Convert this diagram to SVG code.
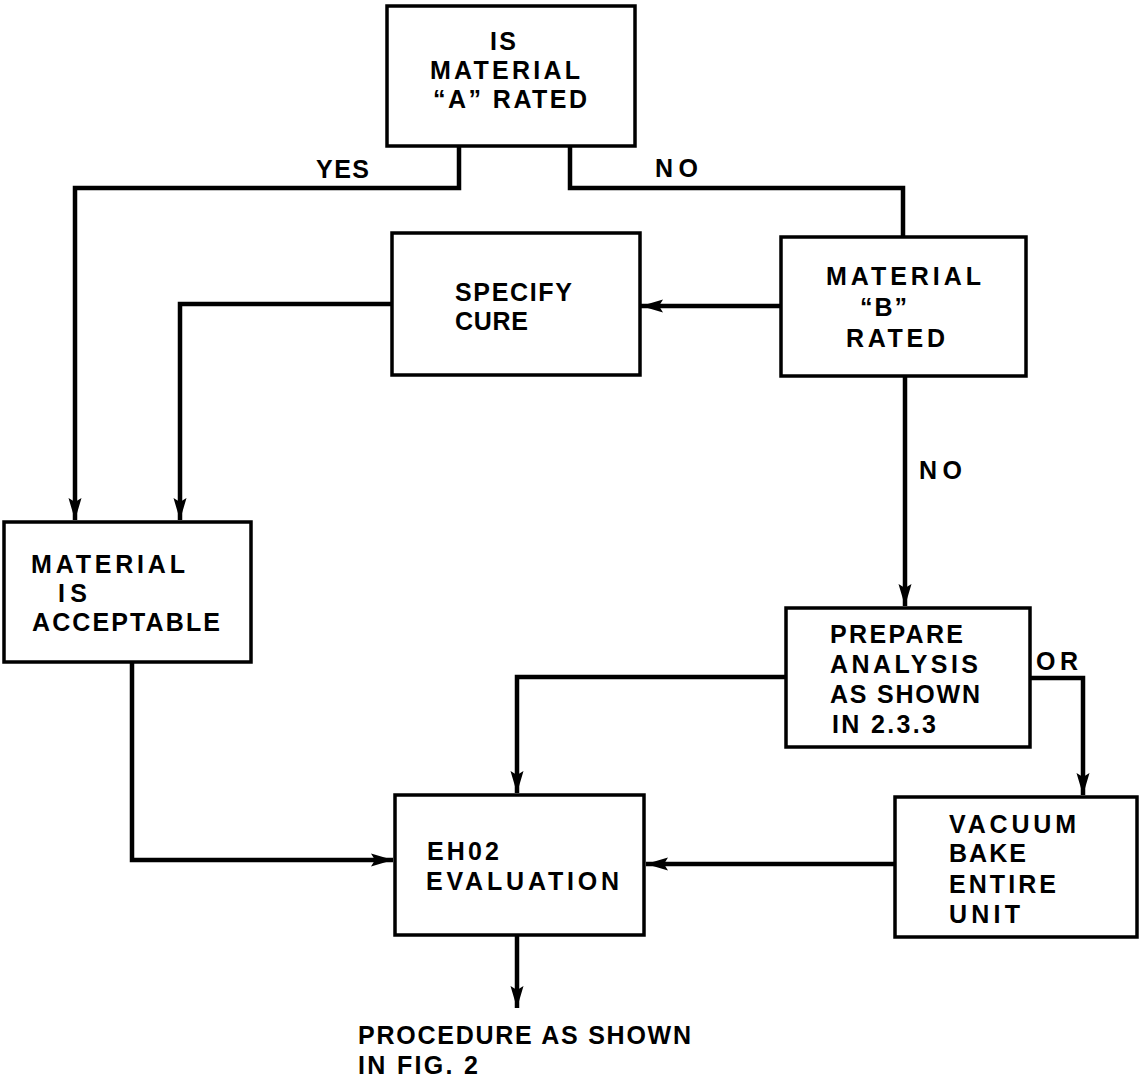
<svg xmlns="http://www.w3.org/2000/svg" width="1141" height="1088" viewBox="0 0 1141 1088">
<style>
.box{fill:#fff;stroke:#000;stroke-width:3.5}
.ln{fill:none;stroke:#000;stroke-width:4.5}
text{font-family:"Liberation Sans",Arial,sans-serif;font-weight:bold;font-size:25px;fill:#000}
</style>
<defs>
<marker id="ah" markerUnits="userSpaceOnUse" markerWidth="24" markerHeight="16" refX="22" refY="8" orient="auto">
<path d="M0,1.5 L22,8 L0,14.5 L4,8 Z" fill="#000"/>
</marker>
</defs>
<g id="connectors">
<path class="ln" d="M459,146 V188 H75 V520" marker-end="url(#ah)"/>
<path class="ln" d="M570,146 V188 H903 V237"/>
<path class="ln" d="M781,306 H641" marker-end="url(#ah)"/>
<path class="ln" d="M392,304 H180 V520" marker-end="url(#ah)"/>
<path class="ln" d="M905,376 V606" marker-end="url(#ah)"/>
<path class="ln" d="M132,662 V860 H393" marker-end="url(#ah)"/>
<path class="ln" d="M786,677 H517 V793" marker-end="url(#ah)"/>
<path class="ln" d="M1030,678 H1083 V795" marker-end="url(#ah)"/>
<path class="ln" d="M895,864 H646" marker-end="url(#ah)"/>
<path class="ln" d="M517,935 V1008" marker-end="url(#ah)"/>
<text x="316" y="178" textLength="53">YES</text>
<text x="655" y="177" textLength="43">NO</text>
<text x="919" y="479" textLength="43">NO</text>
<text x="1036" y="670" textLength="42">OR</text>
</g>
<g id="nodeA">
<rect class="box" x="387" y="6" width="248" height="140"/>
<text x="490" y="50" textLength="26">IS</text>
<text x="430" y="79" textLength="150">MATERIAL</text>
<text x="433" y="108" textLength="154">“A” RATED</text>
</g>
<g id="nodeSpecify">
<rect class="box" x="392" y="233" width="248" height="142"/>
<text x="455" y="301" textLength="117">SPECIFY</text>
<text x="455" y="330" textLength="73">CURE</text>
</g>
<g id="nodeB">
<rect class="box" x="781" y="237" width="245" height="139"/>
<text x="826" y="285" textLength="155">MATERIAL</text>
<text x="860" y="316" textLength="47">“B”</text>
<text x="846" y="347" textLength="99">RATED</text>
</g>
<g id="nodeAcceptable">
<rect class="box" x="4" y="522" width="247" height="140"/>
<text x="31" y="573" textLength="154">MATERIAL</text>
<text x="58" y="602" textLength="29">IS</text>
<text x="32" y="631" textLength="188">ACCEPTABLE</text>
</g>
<g id="nodePrepare">
<rect class="box" x="786" y="608" width="244" height="139"/>
<text x="830" y="643" textLength="133">PREPARE</text>
<text x="830" y="673" textLength="148">ANALYSIS</text>
<text x="830" y="703" textLength="150">AS SHOWN</text>
<text x="832" y="733" textLength="104">IN 2.3.3</text>
</g>
<g id="nodeEH02">
<rect class="box" x="395" y="795" width="249" height="140"/>
<text x="427" y="860" textLength="72">EH02</text>
<text x="426" y="890" textLength="193">EVALUATION</text>
</g>
<g id="nodeVacuum">
<rect class="box" x="895" y="797" width="242" height="140"/>
<text x="949" y="833" textLength="127">VACUUM</text>
<text x="949" y="862" textLength="77">BAKE</text>
<text x="949" y="893" textLength="107">ENTIRE</text>
<text x="949" y="923" textLength="71">UNIT</text>
</g>
<g id="output">
<text x="358" y="1044" textLength="333">PROCEDURE AS SHOWN</text>
<text x="358" y="1074" textLength="120">IN FIG. 2</text>
</g>
</svg>
